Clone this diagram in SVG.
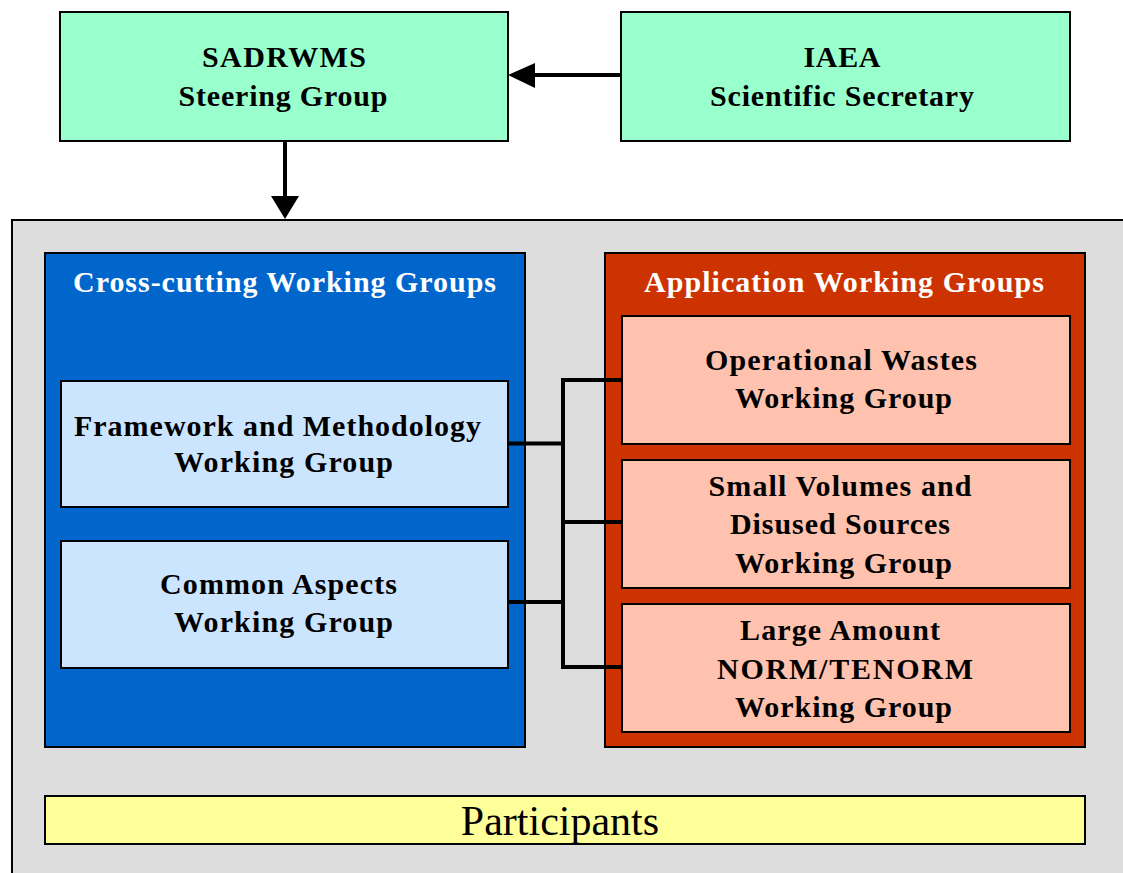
<svg xmlns="http://www.w3.org/2000/svg" width="1123" height="873" viewBox="0 0 1123 873">
<style>
.box{stroke:#000;stroke-width:2}
.mint{fill:#99FFCC}
.grey{fill:#DDDDDD}
.blue{fill:#0066CC}
.lblue{fill:#CCE5FF}
.red{fill:#CC3300}
.salmon{fill:#FFC2AE}
.yellow{fill:#FFFF99}
.t{font-family:"Liberation Serif","Times New Roman",serif;font-weight:bold;font-size:30px;fill:#000;text-anchor:middle}
.w{fill:#FFFFFF}
.p{font-family:"Liberation Serif","Times New Roman",serif;font-size:42px;fill:#000;text-anchor:middle}
.c{stroke:#000;stroke-width:4;fill:none}
</style>
<rect width="1123" height="873" fill="#FFFFFF"/>
<g id="container">
<rect class="box grey" x="12" y="220" width="1130" height="700"/>
</g>
<g id="steering">
<rect class="box mint" x="60" y="12" width="448" height="129"/>
<text class="t" x="284" y="67" textLength="164" lengthAdjust="spacing">SADRWMS</text>
<text class="t" x="283" y="106" textLength="209" lengthAdjust="spacing">Steering Group</text>
</g>
<g id="iaea">
<rect class="box mint" x="621" y="12" width="449" height="129"/>
<text class="t" x="842" y="67" textLength="77" lengthAdjust="spacing">IAEA</text>
<text class="t" x="842" y="106" textLength="264" lengthAdjust="spacing">Scientific Secretary</text>
</g>
<g id="crosscutting">
<rect class="box blue" x="45" y="253" width="480" height="494"/>
<text class="t w" x="284.5" y="292" textLength="423" lengthAdjust="spacing">Cross-cutting Working Groups</text>
</g>
<g id="framework">
<rect class="box lblue" x="61" y="381" width="447" height="126"/>
<text class="t" x="277.5" y="436" textLength="407" lengthAdjust="spacing">Framework and Methodology</text>
<text class="t" x="283.5" y="472" textLength="219" lengthAdjust="spacing">Working Group</text>
</g>
<g id="common">
<rect class="box lblue" x="61" y="541" width="447" height="127"/>
<text class="t" x="278.5" y="594" textLength="237" lengthAdjust="spacing">Common Aspects</text>
<text class="t" x="283.5" y="632" textLength="219" lengthAdjust="spacing">Working Group</text>
</g>
<g id="application">
<rect class="box red" x="605" y="253" width="480" height="494"/>
<text class="t w" x="844" y="292" textLength="400" lengthAdjust="spacing">Application Working Groups</text>
</g>
<g id="operational">
<rect class="box salmon" x="622" y="316" width="448" height="128"/>
<text class="t" x="841" y="370" textLength="272" lengthAdjust="spacing">Operational Wastes</text>
<text class="t" x="843.5" y="408" textLength="217" lengthAdjust="spacing">Working Group</text>
</g>
<g id="smallvolumes">
<rect class="box salmon" x="622" y="460" width="448" height="128"/>
<text class="t" x="840" y="496" textLength="263" lengthAdjust="spacing">Small Volumes and</text>
<text class="t" x="840" y="534" textLength="220" lengthAdjust="spacing">Disused Sources</text>
<text class="t" x="843.5" y="573" textLength="217" lengthAdjust="spacing">Working Group</text>
</g>
<g id="largeamount">
<rect class="box salmon" x="622" y="604" width="448" height="128"/>
<text class="t" x="840" y="640" textLength="200" lengthAdjust="spacing">Large Amount</text>
<text class="t" x="845" y="679" textLength="256" lengthAdjust="spacing">NORM/TENORM</text>
<text class="t" x="843.5" y="717" textLength="217" lengthAdjust="spacing">Working Group</text>
</g>
<g id="participants">
<rect class="box yellow" x="45" y="796" width="1040" height="48"/>
<text class="p" x="560" y="835">Participants</text>
</g>
<g id="connectors">
<line class="c" x1="621" y1="75" x2="530" y2="75"/>
<polygon points="508,75 535,63 535,88" fill="#000"/>
<line class="c" x1="285" y1="141" x2="285" y2="200"/>
<polygon points="285,219 271,196 299,196" fill="#000"/>
<line class="c" x1="508" y1="443.5" x2="563" y2="443.5"/>
<line class="c" x1="508" y1="602" x2="563" y2="602"/>
<polyline class="c" points="622,380 563,380 563,667 622,667"/>
<line class="c" x1="563" y1="522" x2="622" y2="522"/>
</g>
</svg>
